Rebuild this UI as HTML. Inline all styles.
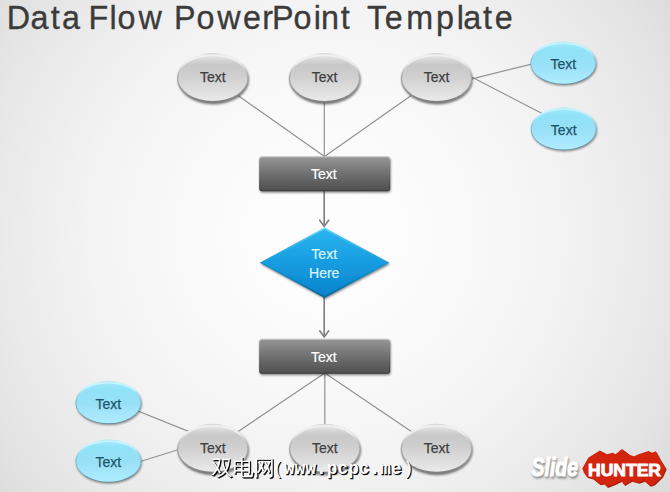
<!DOCTYPE html>
<html><head><meta charset="utf-8">
<style>
html,body{margin:0;padding:0;}
body{width:670px;height:492px;overflow:hidden;background:#f4f4f4;font-family:"Liberation Sans","Noto Sans CJK SC",sans-serif;}
svg{display:block;}
text{font-family:"Liberation Sans","Noto Sans CJK SC",sans-serif;}
.wm{font-family:"WenQuanYi Zen Hei","Noto Sans CJK SC",sans-serif;}
.lm{font-family:"Liberation Mono","DejaVu Sans Mono",monospace;}
</style></head><body>
<svg width="670" height="492" viewBox="0 0 670 492">
<defs>
<radialGradient id="bg" gradientUnits="userSpaceOnUse" cx="325" cy="235" r="470">
<stop offset="0.000" stop-color="#fdfdfd"/>
<stop offset="0.100" stop-color="#fdfdfd"/>
<stop offset="0.200" stop-color="#fbfbfb"/>
<stop offset="0.300" stop-color="#f9f9f9"/>
<stop offset="0.400" stop-color="#f6f6f6"/>
<stop offset="0.500" stop-color="#f3f3f3"/>
<stop offset="0.600" stop-color="#eeeeee"/>
<stop offset="0.700" stop-color="#e9e9e9"/>
<stop offset="0.800" stop-color="#e3e3e3"/>
<stop offset="0.900" stop-color="#dcdcdc"/>
<stop offset="1.000" stop-color="#d4d4d4"/>
</radialGradient>
<linearGradient id="geo" x1="0" y1="0" x2="0" y2="1">
<stop offset="0" stop-color="#cfcfcf"/><stop offset="0.04" stop-color="#f0f0f0"/><stop offset="0.2" stop-color="#ebebeb"/><stop offset="0.45" stop-color="#b0b0b0"/><stop offset="0.75" stop-color="#969696"/><stop offset="1" stop-color="#7c7c7c"/>
</linearGradient>
<linearGradient id="gei" x1="0" y1="0" x2="0" y2="1">
<stop offset="0" stop-color="#e6e6e6"/><stop offset="0.07" stop-color="#d8d8d8"/><stop offset="0.2" stop-color="#c8c8c8"/><stop offset="0.45" stop-color="#cfcfcf"/><stop offset="1" stop-color="#eaeaea"/>
</linearGradient>
<linearGradient id="beo" x1="0" y1="0" x2="0" y2="1">
<stop offset="0" stop-color="#b4e6f4"/><stop offset="0.06" stop-color="#c8f6ff"/><stop offset="0.2" stop-color="#b8f0ff"/><stop offset="0.45" stop-color="#86c4d8"/><stop offset="0.75" stop-color="#6ca6ba"/><stop offset="1" stop-color="#558a9e"/>
</linearGradient>
<linearGradient id="bei" x1="0" y1="0" x2="0" y2="1">
<stop offset="0" stop-color="#9ce8fa"/><stop offset="0.15" stop-color="#90e2f7"/><stop offset="0.5" stop-color="#98e0f7"/><stop offset="1" stop-color="#b0ecff"/>
</linearGradient>
<linearGradient id="gro" x1="0" y1="0" x2="0" y2="1">
<stop offset="0" stop-color="#c6c6c6"/><stop offset="0.15" stop-color="#8a8a8a"/><stop offset="1" stop-color="#383838"/>
</linearGradient>
<linearGradient id="gri" x1="0" y1="0" x2="0" y2="1">
<stop offset="0" stop-color="#949494"/><stop offset="0.5" stop-color="#707070"/><stop offset="1" stop-color="#505050"/>
</linearGradient>
<linearGradient id="gdo" x1="0" y1="0" x2="0" y2="1">
<stop offset="0" stop-color="#5cd4fa"/><stop offset="0.5" stop-color="#1898d8"/><stop offset="1" stop-color="#06649c"/>
</linearGradient>
<linearGradient id="gdi" x1="0" y1="0" x2="0" y2="1">
<stop offset="0" stop-color="#2cb4f0"/><stop offset="0.5" stop-color="#169ce0"/><stop offset="1" stop-color="#0a84cc"/>
</linearGradient>
<filter id="b1" x="-20%" y="-20%" width="140%" height="140%"><feGaussianBlur stdDeviation="1.1"/></filter>
<filter id="b05" x="-10%" y="-10%" width="120%" height="120%"><feGaussianBlur stdDeviation="0.45"/></filter>
<filter id="b2" x="-20%" y="-30%" width="140%" height="160%"><feGaussianBlur stdDeviation="1.2"/></filter>
</defs>
<rect width="670" height="492" fill="url(#bg)"/>
<g font-size="34" fill="#3b3b3b" stroke="#3b3b3b" stroke-width="0.35" transform="scale(0.95,1)">
<text y="28.7" x="7.0 32.1 53.4 65.3 75.3 93.2 115.2 123.7 145.9 155.9 183.3 206.8 228.6 255.8 276.1 286.4 308.9 330.2 337.9 358.7 368.7 386.3 405.0 427.6 458.9 480.7 487.7 508.3 520.8">Data Flow PowerPoint Template</text>
</g>
<g stroke="#929292" stroke-width="1.2" fill="none" stroke-linecap="round">
<line x1="212.8" y1="77.8" x2="324.5" y2="156.5"/>
<line x1="324.3" y1="77.8" x2="324.3" y2="157"/>
<line x1="436.5" y1="77.8" x2="324.5" y2="156.5"/>
<line x1="460" y1="81.8" x2="540" y2="62.1"/>
<line x1="460" y1="71" x2="545" y2="115"/>
<line x1="324.8" y1="373" x2="212.8" y2="448.6"/>
<line x1="324.8" y1="373" x2="324.8" y2="448"/>
<line x1="324.8" y1="373" x2="436.5" y2="448.6"/>
<line x1="128" y1="407" x2="199" y2="435.6"/>
<line x1="130" y1="464.7" x2="190" y2="446"/>
</g>
<g stroke="#7e7e7e" stroke-width="1.6" fill="none" stroke-linecap="round" stroke-linejoin="miter">
<line x1="324.2" y1="190" x2="324.2" y2="225.5"/>
<polyline points="319.7,220.2 324.2,226.4 328.7,220.2"/>
<line x1="324.2" y1="296" x2="324.2" y2="336.2"/>
<polyline points="319.7,330.8 324.2,337 328.7,330.8"/>
</g>
<ellipse cx="213.5" cy="79.8" rx="35.6" ry="24.6" fill="#000" opacity="0.5" filter="url(#b1)"/>
<ellipse cx="212.8" cy="78.1" rx="35.8" ry="25.1" fill="url(#geo)"/>
<ellipse cx="212.8" cy="78.5" rx="34.5" ry="22.5" fill="url(#gei)" filter="url(#b05)"/>
<ellipse cx="325.2" cy="79.8" rx="35.6" ry="24.6" fill="#000" opacity="0.5" filter="url(#b1)"/>
<ellipse cx="324.5" cy="78.1" rx="35.8" ry="25.1" fill="url(#geo)"/>
<ellipse cx="324.5" cy="78.5" rx="34.5" ry="22.5" fill="url(#gei)" filter="url(#b05)"/>
<ellipse cx="437.2" cy="79.8" rx="35.6" ry="24.6" fill="#000" opacity="0.5" filter="url(#b1)"/>
<ellipse cx="436.5" cy="78.1" rx="35.8" ry="25.1" fill="url(#geo)"/>
<ellipse cx="436.5" cy="78.5" rx="34.5" ry="22.5" fill="url(#gei)" filter="url(#b05)"/>
<ellipse cx="213.5" cy="450.6" rx="35.6" ry="24.6" fill="#000" opacity="0.5" filter="url(#b1)"/>
<ellipse cx="212.8" cy="448.9" rx="35.8" ry="25.1" fill="url(#geo)"/>
<ellipse cx="212.8" cy="449.3" rx="34.5" ry="22.5" fill="url(#gei)" filter="url(#b05)"/>
<ellipse cx="325.5" cy="450.6" rx="35.6" ry="24.6" fill="#000" opacity="0.5" filter="url(#b1)"/>
<ellipse cx="324.8" cy="448.9" rx="35.8" ry="25.1" fill="url(#geo)"/>
<ellipse cx="324.8" cy="449.3" rx="34.5" ry="22.5" fill="url(#gei)" filter="url(#b05)"/>
<ellipse cx="437.2" cy="450.6" rx="35.6" ry="24.6" fill="#000" opacity="0.5" filter="url(#b1)"/>
<ellipse cx="436.5" cy="448.9" rx="35.8" ry="25.1" fill="url(#geo)"/>
<ellipse cx="436.5" cy="449.3" rx="34.5" ry="22.5" fill="url(#gei)" filter="url(#b05)"/>
<ellipse cx="564.0" cy="64.6" rx="32.8" ry="21" fill="#000" opacity="0.45" filter="url(#b1)"/>
<ellipse cx="563.3" cy="63" rx="33" ry="21.4" fill="url(#beo)"/>
<ellipse cx="563.3" cy="63.8" rx="32" ry="19.9" fill="url(#bei)" filter="url(#b05)"/>
<ellipse cx="564.4000000000001" cy="130.4" rx="32.8" ry="21" fill="#000" opacity="0.45" filter="url(#b1)"/>
<ellipse cx="563.7" cy="128.8" rx="33" ry="21.4" fill="url(#beo)"/>
<ellipse cx="563.7" cy="129.6" rx="32" ry="19.9" fill="url(#bei)" filter="url(#b05)"/>
<ellipse cx="109.10000000000001" cy="404.1" rx="32.8" ry="21" fill="#000" opacity="0.45" filter="url(#b1)"/>
<ellipse cx="108.4" cy="402.5" rx="33" ry="21.4" fill="url(#beo)"/>
<ellipse cx="108.4" cy="403.3" rx="32" ry="19.9" fill="url(#bei)" filter="url(#b05)"/>
<ellipse cx="109.10000000000001" cy="462.6" rx="32.8" ry="21" fill="#000" opacity="0.45" filter="url(#b1)"/>
<ellipse cx="108.4" cy="461" rx="33" ry="21.4" fill="url(#beo)"/>
<ellipse cx="108.4" cy="461.8" rx="32" ry="19.9" fill="url(#bei)" filter="url(#b05)"/>
<rect x="259.7" y="157.7" width="131" height="35" rx="3" fill="#000" opacity="0.45" filter="url(#b1)"/>
<rect x="259.2" y="156.2" width="131" height="35" rx="3" fill="url(#gro)"/>
<rect x="260.2" y="157.39999999999998" width="129" height="32.8" rx="2.2" fill="url(#gri)" filter="url(#b05)"/>
<rect x="259.7" y="340.3" width="131" height="35" rx="3" fill="#000" opacity="0.45" filter="url(#b1)"/>
<rect x="259.2" y="338.8" width="131" height="35" rx="3" fill="url(#gro)"/>
<rect x="260.2" y="340.0" width="129" height="32.8" rx="2.2" fill="url(#gri)" filter="url(#b05)"/>
<polygon points="325.2,229.5 390,264.3 325.2,299.3 260.8,264.3" fill="#000" opacity="0.45" filter="url(#b1)"/>
<polygon points="324.5,227.4 389.4,262.8 324.5,298.1 259.7,262.8" fill="url(#gdo)"/>
<polygon points="324.5,229.4 386,262.7 324.5,296 263.1,262.7" fill="url(#gdi)" filter="url(#b05)"/>
<g font-size="14" fill="#404040" text-anchor="middle" stroke="#404040" stroke-width="0.25">
<text x="212.8" y="82.4">Text</text>
<text x="324.5" y="82.4">Text</text>
<text x="436.5" y="82.4">Text</text>
<text x="212.8" y="453.2">Text</text>
<text x="324.8" y="453.2">Text</text>
<text x="436.5" y="453.2">Text</text>
</g>
<g font-size="14" fill="#1d5468" text-anchor="middle" stroke="#1d5468" stroke-width="0.25">
<text x="563.3" y="69">Text</text>
<text x="563.7" y="134.8">Text</text>
<text x="108.4" y="408.5">Text</text>
<text x="108.4" y="467">Text</text>
</g>
<g font-size="14" fill="#fff" text-anchor="middle" stroke="#fff" stroke-width="0.2">
<text x="323.8" y="179">Text</text>
<text x="323.8" y="361.6">Text</text>
</g>
<g font-size="14" fill="#daf6ff" text-anchor="middle" stroke="#daf6ff" stroke-width="0.2">
<text x="324.2" y="259.3">Text</text>
<text x="324.2" y="277.9">Here</text>
</g>
<g font-weight="bold">
<text class="wm" font-size="21.2" y="476.4" x="212.4 233.5 254.7" fill="#000" stroke="#000" stroke-width="0.5">双电网</text>
<text class="lm" font-size="17.6" y="474.6" x="273.9 285.1 295.8 306.4 317.1 327.8 338.5 349.2 359.8 370.5 381.2 391.9 404.1" fill="#000" stroke="#000" stroke-width="0.5"><tspan font-weight="normal" stroke-width="0.2">(</tspan>www.pcpc.me<tspan font-weight="normal" stroke-width="0.2">)</tspan></text>
<text class="wm" font-size="21.2" y="475.4" x="211.4 232.5 253.7" fill="#fff">双电网</text>
<text class="lm" font-size="17.6" y="473.6" x="272.9 284.1 294.8 305.4 316.1 326.8 337.5 348.2 358.8 369.5 380.2 390.9 403.1" fill="#fff"><tspan font-weight="normal">(</tspan>www.pcpc.me<tspan font-weight="normal">)</tspan></text>
</g>
<g font-style="italic" font-weight="bold" font-size="25">
<text x="532.5" y="478.3" fill="#6a6a6a" stroke="#6a6a6a" stroke-width="1.2" opacity="0.75" filter="url(#b2)" textLength="46.5" lengthAdjust="spacingAndGlyphs">Slide</text>
<text x="531.5" y="476.3" fill="#fff" stroke="#fff" stroke-width="1.1" stroke-linejoin="round" textLength="46.5" lengthAdjust="spacingAndGlyphs">Slide</text>
</g>
<polygon fill="#a81c0c" points="583.3,469.5 589.3,458.8 600.8,451.6 608,455.2 613.7,453.7 616.5,455.2 623,449.9 630.9,455.9 635.2,457.3 639.5,455.2 649.5,451.9 653.1,453.7 656.7,452.3 661,460.2 666.7,469.5 663.1,477.4 655.2,485.3 650.9,486.7 645.2,481.7 639.5,483.8 632.3,481.7 625.1,486 622.3,481.7 615.1,485.3 608,488.1 605.1,484.5 600.8,485.3 593.6,479.5 587.9,478.1 585,473.8"/>
<polygon fill="#d3240e" points="582.3,468.5 588.3,457.8 599.8,450.6 607,454.2 612.7,452.7 615.5,454.2 622,448.9 629.9,454.9 634.2,456.3 638.5,454.2 648.5,450.9 652.1,452.7 655.7,451.3 660,459.2 665.7,468.5 662.1,476.4 654.2,484.3 649.9,485.7 644.2,480.7 638.5,482.8 631.3,480.7 624.1,485 621.3,480.7 614.1,484.3 607,487.1 604.1,483.5 599.8,484.3 592.6,478.5 586.9,477.1 584,472.8"/>
<text x="588" y="475.7" font-size="17" font-weight="bold" fill="#fff" stroke="#fff" stroke-width="0.9" textLength="73" lengthAdjust="spacingAndGlyphs">HUNTER</text>
</svg>
</body></html>
